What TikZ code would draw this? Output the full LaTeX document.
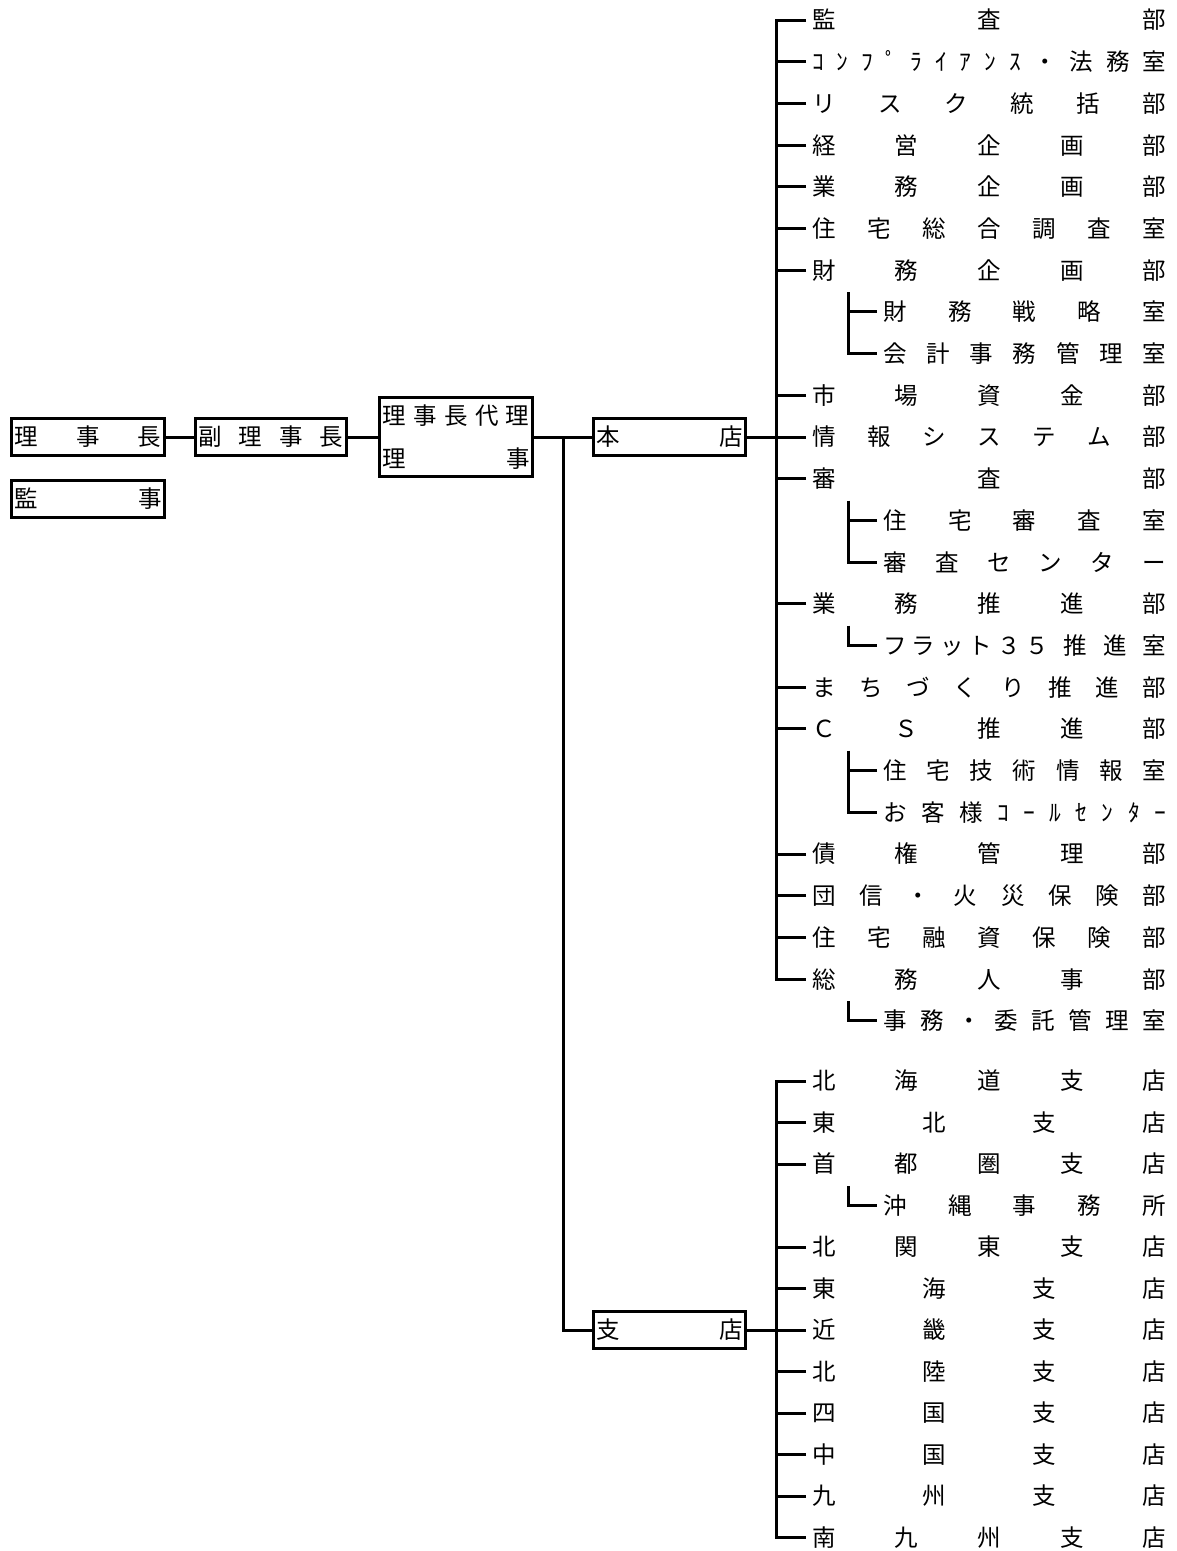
\documentclass[tikz,border=0pt]{standalone}
\usepackage{fontspec}
\setmainfont{Noto Sans CJK JP}
\usetikzlibrary{positioning}

% spread the glyphs of a label evenly over a given width
\newcommand{\kintou}[2]{\makebox[#1][s]{#2}}

\begin{document}
\begin{tikzpicture}[x=1pt,y=-1pt,
    font=\fontsize{23.5pt}{26pt}\selectfont,
    conn/.style={line width=3pt},
    ofcbox/.style={draw,line width=3pt,inner xsep=3pt,inner ysep=0pt,
      minimum height=37pt},
    dept/.style={anchor=west,inner xsep=6pt,inner ysep=0pt},
    subdept/.style={anchor=west,inner xsep=6pt,inner ysep=0pt}]

  \useasboundingbox (0,0) rectangle (1176,1551);

  % executives
  \node[ofcbox] (chair) at (88,437) {\kintou{147pt}{理 事 長}};
  \node[ofcbox] (auditor) at (88,499) {\kintou{147pt}{監 事}};
  \node[ofcbox] (vice) at (271,437) {\kintou{145pt}{副 理 事 長}};
  \node[ofcbox,minimum height=79pt,align=center,
    font=\fontsize{23.5pt}{43pt}\selectfont] (deputy) at (456,437)
    {\kintou{147pt}{理 事 長 代 理}\\\kintou{147pt}{理 事}};
  \node[ofcbox] (hq) at (669.5,437) {\kintou{146pt}{本 店}};
  \node[ofcbox] (br) at (669.5,1330) {\kintou{146pt}{支 店}};

  \draw[conn] (chair) -- (vice);
  \draw[conn] (vice) -- (deputy);
  \draw[conn] (deputy) -- (hq);
  \coordinate (split) at (563,437);
  \draw[conn] (split) |- (br.west);

  % head office departments
  \node[dept] (r0) at (806,20) {\kintou{354pt}{監 査 部}};
  \node[dept] (r1) at (806,61.7) {\kintou{354pt}{ｺ ﾝ ﾌ ﾟ ﾗ ｲ ｱ ﾝ ｽ ・ 法 務 室}};
  \node[dept] (r2) at (806,103.4) {\kintou{354pt}{リ ス ク 統 括 部}};
  \node[dept] (r3) at (806,145.1) {\kintou{354pt}{経 営 企 画 部}};
  \node[dept] (r4) at (806,186.8) {\kintou{354pt}{業 務 企 画 部}};
  \node[dept] (r5) at (806,228.5) {\kintou{354pt}{住 宅 総 合 調 査 室}};
  \node[dept] (r6) at (806,270.2) {\kintou{354pt}{財 務 企 画 部}};
  \node[subdept] (r7) at (877,311.9) {\kintou{283pt}{財 務 戦 略 室}};
  \node[subdept] (r8) at (877,353.6) {\kintou{283pt}{会 計 事 務 管 理 室}};
  \node[dept] (r9) at (806,395.3) {\kintou{354pt}{市 場 資 金 部}};
  \node[dept] (r10) at (806,437) {\kintou{354pt}{情 報 シ ス テ ム 部}};
  \node[dept] (r11) at (806,478.7) {\kintou{354pt}{審 査 部}};
  \node[subdept] (r12) at (877,520.4) {\kintou{283pt}{住 宅 審 査 室}};
  \node[subdept] (r13) at (877,562.1) {\kintou{283pt}{審 査 セ ン タ ー}};
  \node[dept] (r14) at (806,603.8) {\kintou{354pt}{業 務 推 進 部}};
  \node[subdept] (r15) at (877,645.5) {\kintou{283pt}{フ\hspace{5pt}ラ\hspace{5pt}ッ\hspace{5pt}ト\hspace{5pt}３\hspace{5pt}５\hfill 推\hspace{16pt}進\hspace{16pt}室}};
  \node[dept] (r16) at (806,687.2) {\kintou{354pt}{ま ち づ く り 推 進 部}};
  \node[dept] (r17) at (806,728.9) {\kintou{354pt}{Ｃ Ｓ 推 進 部}};
  \node[subdept] (r18) at (877,770.6) {\kintou{283pt}{住 宅 技 術 情 報 室}};
  \node[subdept] (r19) at (877,812.3) {\kintou{283pt}{お 客 様 ｺ ｰ ﾙ ｾ ﾝ ﾀ ｰ}};
  \node[dept] (r20) at (806,854) {\kintou{354pt}{債 権 管 理 部}};
  \node[dept] (r21) at (806,895.7) {\kintou{354pt}{団 信 ・ 火 災 保 険 部}};
  \node[dept] (r22) at (806,937.4) {\kintou{354pt}{住 宅 融 資 保 険 部}};
  \node[dept] (r23) at (806,979.1) {\kintou{354pt}{総 務 人 事 部}};
  \node[subdept] (r24) at (877,1020.8) {\kintou{283pt}{事 務 ・ 委 託 管 理 室}};

  \coordinate (hqtrunk) at (776,0);
  \draw[conn] (r0.west) -| (r23.west -| hqtrunk) -- (r23.west);
  \draw[conn] (hq) -- (r10.west);
  \draw[conn] (r1.west) -- (r1.west -| hqtrunk) (r2.west) -- (r2.west -| hqtrunk)
    (r3.west) -- (r3.west -| hqtrunk) (r4.west) -- (r4.west -| hqtrunk)
    (r5.west) -- (r5.west -| hqtrunk) (r6.west) -- (r6.west -| hqtrunk)
    (r9.west) -- (r9.west -| hqtrunk) (r11.west) -- (r11.west -| hqtrunk)
    (r14.west) -- (r14.west -| hqtrunk) (r16.west) -- (r16.west -| hqtrunk)
    (r17.west) -- (r17.west -| hqtrunk) (r20.west) -- (r20.west -| hqtrunk)
    (r21.west) -- (r21.west -| hqtrunk) (r22.west) -- (r22.west -| hqtrunk);

  % sections under a department
  \coordinate (s6) at (848,292);
  \draw[conn] (s6) |- (r8.west);
  \draw[conn] (r7.west) -- (r7.west -| s6);
  \coordinate (s11) at (848,500.5);
  \draw[conn] (s11) |- (r13.west);
  \draw[conn] (r12.west) -- (r12.west -| s11);
  \coordinate (s14) at (848,625.5);
  \draw[conn] (s14) |- (r15.west);
  \coordinate (s17) at (848,750.5);
  \draw[conn] (s17) |- (r19.west);
  \draw[conn] (r18.west) -- (r18.west -| s17);
  \coordinate (s23) at (848,1001);
  \draw[conn] (s23) |- (r24.west);

  % branches
  \node[dept] (b0) at (806,1081) {\kintou{354pt}{北 海 道 支 店}};
  \node[dept] (b1) at (806,1122.5) {\kintou{354pt}{東 北 支 店}};
  \node[dept] (b2) at (806,1164) {\kintou{354pt}{首 都 圏 支 店}};
  \node[subdept] (b3) at (877,1205.5) {\kintou{283pt}{沖 縄 事 務 所}};
  \node[dept] (b4) at (806,1247) {\kintou{354pt}{北 関 東 支 店}};
  \node[dept] (b5) at (806,1288.5) {\kintou{354pt}{東 海 支 店}};
  \node[dept] (b6) at (806,1330) {\kintou{354pt}{近 畿 支 店}};
  \node[dept] (b7) at (806,1371.5) {\kintou{354pt}{北 陸 支 店}};
  \node[dept] (b8) at (806,1413) {\kintou{354pt}{四 国 支 店}};
  \node[dept] (b9) at (806,1454.5) {\kintou{354pt}{中 国 支 店}};
  \node[dept] (b10) at (806,1496) {\kintou{354pt}{九 州 支 店}};
  \node[dept] (b11) at (806,1537.5) {\kintou{354pt}{南 九 州 支 店}};

  \coordinate (brtrunk) at (776,0);
  \draw[conn] (b0.west) -| (b11.west -| brtrunk) -- (b11.west);
  \draw[conn] (br) -- (b6.west);
  \draw[conn] (b1.west) -- (b1.west -| brtrunk) (b2.west) -- (b2.west -| brtrunk)
    (b4.west) -- (b4.west -| brtrunk) (b5.west) -- (b5.west -| brtrunk)
    (b7.west) -- (b7.west -| brtrunk) (b8.west) -- (b8.west -| brtrunk)
    (b9.west) -- (b9.west -| brtrunk) (b10.west) -- (b10.west -| brtrunk);
  \coordinate (s2) at (848,1186);
  \draw[conn] (s2) |- (b3.west);
\end{tikzpicture}
\end{document}
